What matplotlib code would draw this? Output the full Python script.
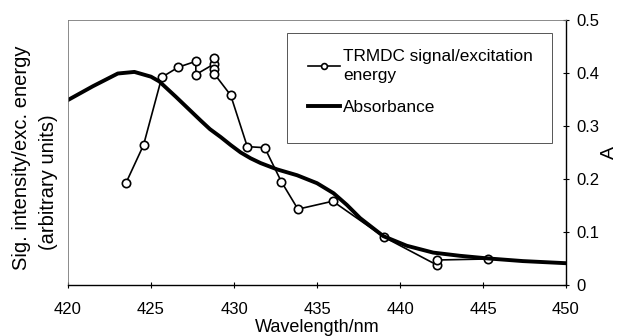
import matplotlib.pyplot as plt
from matplotlib.patches import Rectangle

plt.rcParams['font.family'] = ['Liberation Sans', 'DejaVu Sans']

# TRMDC signal / excitation energy (open circles)
sig_wl = [423.5, 424.55, 425.65, 426.65, 427.7, 427.7, 428.8, 428.8, 428.8, 428.8,
          429.8, 430.8, 431.85, 432.85, 433.85, 435.95, 439.05, 442.2, 442.2, 445.3]
sig_val = [0.193, 0.264, 0.392, 0.411, 0.422, 0.397, 0.417, 0.428, 0.408, 0.399,
           0.358, 0.261, 0.259, 0.195, 0.143, 0.158, 0.090, 0.038, 0.047, 0.049]

# absorbance curve
abs_wl = [420.0, 421.5, 423.0, 424.0, 425.0, 425.5, 426.5, 427.5, 428.0, 428.55,
          429.2, 429.8, 430.4, 431.0, 431.6, 432.6, 433.8, 435.0, 436.0, 436.8,
          437.6, 439.0, 440.4, 442.0, 443.6, 445.3, 447.4, 450.0]
abs_val = [0.349, 0.375, 0.399, 0.402, 0.393, 0.384, 0.355, 0.325, 0.310, 0.294,
           0.279, 0.264, 0.250, 0.239, 0.230, 0.218, 0.207, 0.192, 0.173, 0.151,
           0.126, 0.092, 0.074, 0.061, 0.055, 0.050, 0.045, 0.041]

fig = plt.figure(figsize=(6.2, 3.36), dpi=100)
ax = fig.add_axes([0.1097, 0.152, 0.8032, 0.7885])

ax.plot(sig_wl, sig_val, color='black', lw=1.2, marker='o', ms=6,
        mfc='white', mec='black', mew=1.2, label='TRMDC signal/excitation\nenergy')
ax.plot(abs_wl, abs_val, color='black', lw=2.8, solid_joinstyle='round',
        label='Absorbance')

ax.set_xlim(420, 450)
ax.set_ylim(0, 0.5)
ax.set_xticks(range(420, 451, 5))
ax.set_yticks([0, 0.1, 0.2, 0.3, 0.4, 0.5])
ax.set_yticklabels(['0', '0.1', '0.2', '0.3', '0.4', '0.5'])
ax.yaxis.tick_right()
ax.yaxis.set_label_position('right')
ax.tick_params(axis='both', direction='inout', length=5, width=0.8, labelsize=12)
ax.tick_params(axis='y', pad=5)
ax.tick_params(axis='x', pad=10)

for s in ['left', 'top']:
    ax.spines[s].set_color('#777777')
    ax.spines[s].set_linewidth(0.6)
for s in ['right', 'bottom']:
    ax.spines[s].set_linewidth(1.0)

ax.set_xlabel('Wavelength/nm', fontsize=13, labelpad=1)
ax.set_ylabel('A', fontsize=14, rotation=90, labelpad=1)

fig.text(0.035, 0.53, 'Sig. intensity/exc. energy', rotation=90,
         ha='center', va='center', fontsize=14.5)
fig.text(0.078, 0.458, '(arbitrary units)', rotation=90,
         ha='center', va='center', fontsize=14.5)

# legend box drawn separately (its padding is uneven in the original)
ax.add_patch(Rectangle((0.4398, 0.536), 0.532, 0.415, transform=ax.transAxes,
                       fill=False, edgecolor='#555555', lw=0.7, zorder=4))
leg = ax.legend(loc='upper left', bbox_to_anchor=(0.482, 0.89), fontsize=12.4,
                frameon=False, handlelength=1.86, handletextpad=0.17,
                labelspacing=1.0, borderpad=0, borderaxespad=0, markerscale=0.7)
leg.get_texts()[0].set_linespacing(1.3)

fig.savefig('out.png', dpi=100)
